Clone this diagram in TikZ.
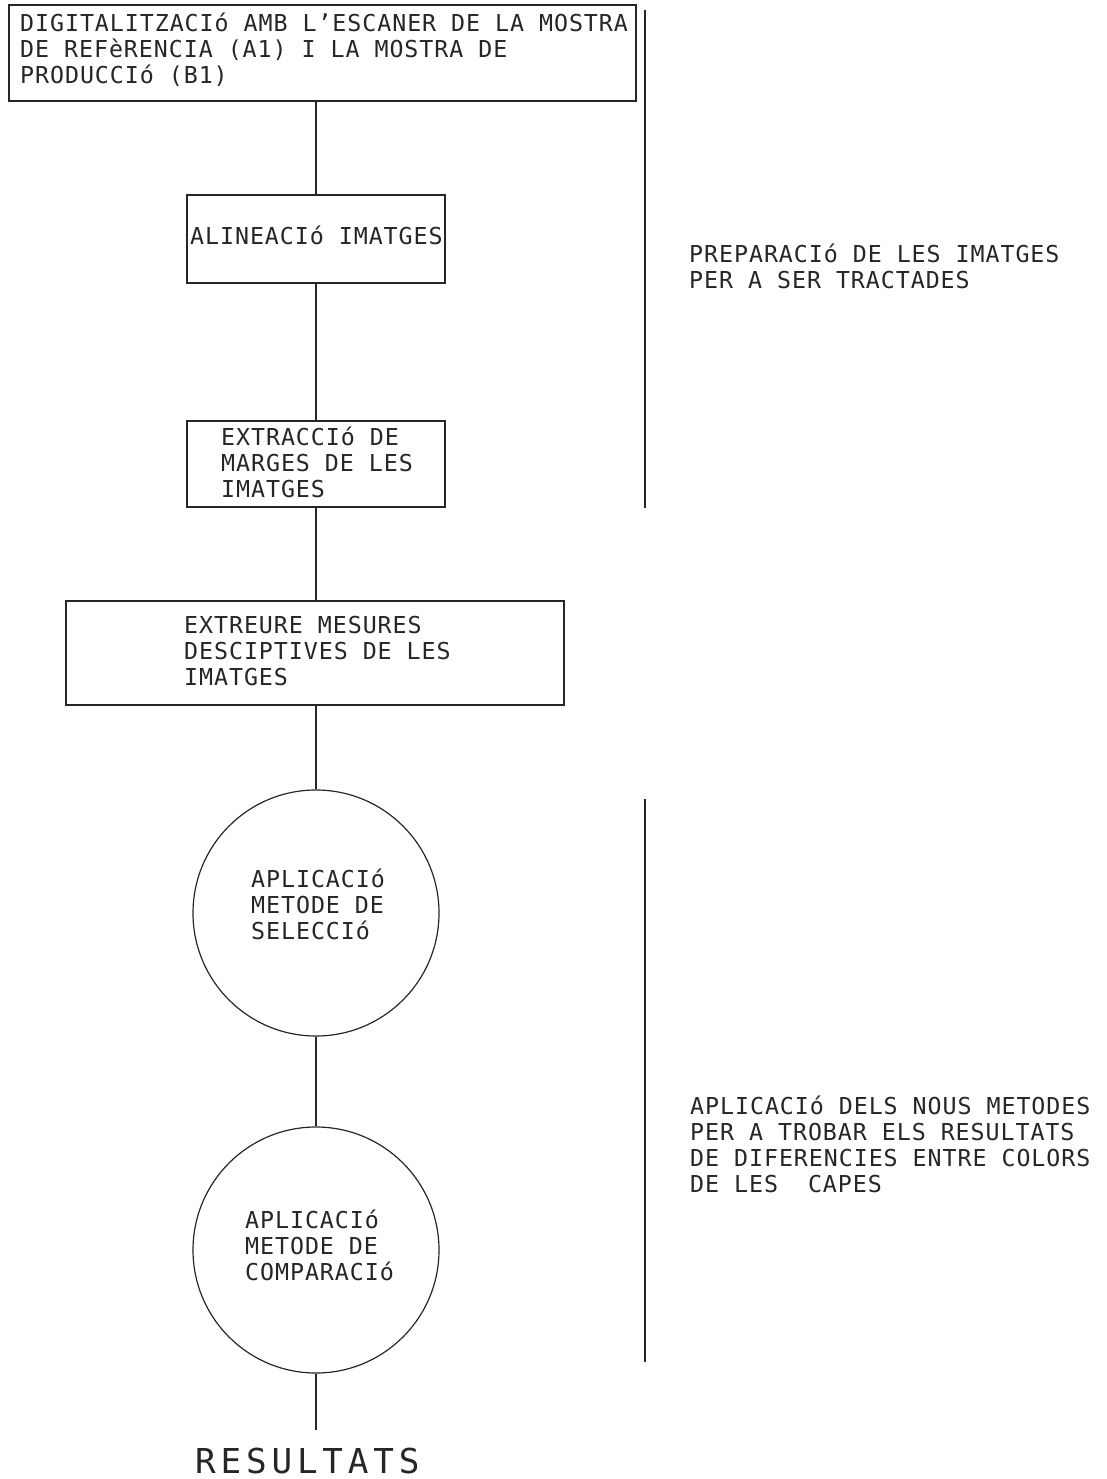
\documentclass[tikz,border=0pt]{standalone}
\usepackage{fontspec}
% thin monospaced capitals, spaced out like a plotter font
\newfontfamily\cadfont[LetterSpace=4]{DejaVu Sans Mono}
\newfontfamily\cadbigfont[LetterSpace=14]{DejaVu Sans Mono}
\begin{document}
\begin{tikzpicture}[x=1pt,y=-1pt,
  lin/.style={line width=1.2pt, draw=black!85},
  stepbox/.style={lin, rectangle, inner sep=0pt},
  stepcirc/.style={lin, circle, inner sep=0pt, minimum size=246pt},
  % labels are placed by the baseline of their last line
  lbl/.style={anchor=base west, inner sep=0pt, align=left, text=black!85,
    font=\cadfont\fontsize{23.3}{26}\selectfont},
  biglbl/.style={anchor=base west, inner sep=0pt, text=black!85,
    font=\cadbigfont\fontsize{34.3}{40}\selectfont},
]
\useasboundingbox (0,0) rectangle (1107,1479);

% process steps
\node[stepbox, minimum width=627pt, minimum height=96pt] (b1) at (322.5,53) {};
\node[stepbox, minimum width=258pt, minimum height=88pt] (b2) at (316,239) {};
\node[stepbox, minimum width=258pt, minimum height=86pt] (b3) at (316,464) {};
\node[stepbox, minimum width=498pt, minimum height=104pt] (b4) at (315,653) {};
\node[stepcirc] (c1) at (316,913) {};
\node[stepcirc] (c2) at (316,1250) {};
\coordinate (fin) at (316,1430);

% connectors along the spine
\draw[lin] (b2.north |- b1.south) -- (b2.north);
\draw[lin] (b2.south) -- (b3.north);
\draw[lin] (b3.south) -- (b3.south |- b4.north);
\draw[lin] (c1.north |- b4.south) -- (c1.north);
\draw[lin] (c1.south) -- (c2.north);
\draw[lin] (c2.south) -- (fin);

% phase markers
\coordinate (p1a) at (645,10);
\coordinate (p1b) at (645,508);
\coordinate (p2a) at (645,799);
\coordinate (p2b) at (645,1362);
\draw[lin] (p1a) -- (p1b);
\draw[lin] (p2a) -- (p2b);

% labels
\node[lbl] (t1) at (20,84) {DIGITALITZACIó AMB L’ESCANER DE LA MOSTRA\\DE REFèRENCIA (A1) I LA MOSTRA DE\\PRODUCCIó (B1)};
\node[lbl] (t2) at (190,244) {ALINEACIó IMATGES};
\node[lbl] (t3) at (221,497) {EXTRACCIó DE\\MARGES DE LES\\IMATGES};
\node[lbl] (t4) at (184,685) {EXTREURE MESURES\\DESCIPTIVES DE LES\\IMATGES};
\node[lbl] (t5) at (251,939) {APLICACIó\\METODE DE\\SELECCIó};
\node[lbl] (t6) at (245,1280) {APLICACIó\\METODE DE\\COMPARACIó};
\node[lbl] (t7) at (689,288) {PREPARACIó DE LES IMATGES\\PER A SER TRACTADES};
\node[lbl] (t8) at (690,1192) {APLICACIó DELS NOUS METODES\\PER A TROBAR ELS RESULTATS\\DE DIFERENCIES ENTRE COLORS\\DE LES\ \ CAPES};
\node[biglbl] (t9) at (195,1473) {RESULTATS};
\end{tikzpicture}
\end{document}
